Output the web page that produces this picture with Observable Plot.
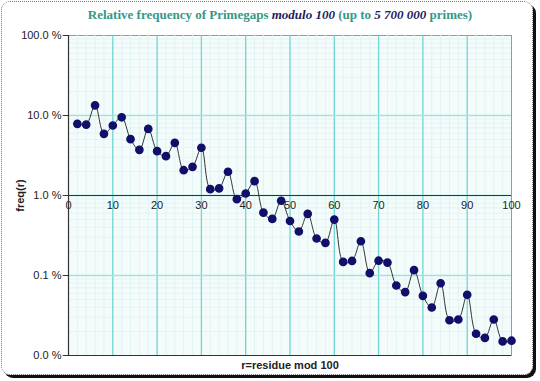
<!DOCTYPE html>
<html>
<head>
<meta charset="utf-8">
<script src="https://cdn.jsdelivr.net/npm/d3@7"></script>
<script src="https://cdn.jsdelivr.net/npm/@observablehq/plot@0.6"></script>
<style>
  html, body { margin: 0; padding: 0; background: #fff; }
  #wrap { position: relative; width: 540px; height: 381px; overflow: hidden; background: #fff; }
  #title { position: absolute; left: 0; top: 7px; width: 560px; text-align: center;
    font-family: "Liberation Serif", "Times New Roman", serif; font-size: 13px; font-weight: bold;
    color: #339888; white-space: nowrap; }
  #title i { color: #1c1c5e; }
  #chart { position: absolute; left: 0; top: 28px; }
  #frame { position: absolute; left: 1px; top: 1px; width: 530px; height: 372px;
    border: 1px dotted #777; border-radius: 9px; box-shadow: 3px 3px 0 #111; pointer-events: none; }
</style>
</head>
<body>
<div id="wrap">
  <div id="title">Relative frequency of Primegaps <i>modulo 100</i> (up to <i>5 700 000</i> primes)</div>
  <div id="chart"></div>
  <div id="frame"></div>
</div>
<script>
const residues = [2,4,6,8,10,12,14,16,18,20,22,24,26,28,30,32,34,36,38,40,42,44,46,48,50,
  52,54,56,58,60,62,64,66,68,70,72,74,76,78,80,82,84,86,88,90,92,94,96,98,100];
const freqPercent = [7.87,7.7,13.4,5.9,7.5,9.5,5.06,3.72,6.8,3.58,3.1,4.55,2.07,2.28,3.95,1.2,1.23,1.98,0.90,1.06,
  1.51,0.61,0.51,0.86,0.48,0.355,0.59,0.29,0.256,0.50,0.148,0.152,0.268,0.107,0.153,0.145,0.075,0.062,0.1165,0.0557,
  0.0398,0.080,0.0276,0.0282,0.0574,0.0187,0.0166,0.0282,0.015,0.0153];
const xTicks = [0,10,20,30,40,50,60,70,80,90,100];
const yTicks = [100,10,1,0.1,0.01];
const yTickLabels = ["100.0 %","10.0 %","1.0 %","0.1 %","0.0 %"];
const xLabel = "r=residue mod 100";
const yLabel = "freq(r)";

const data = residues.map((r, i) => ({r, f: freqPercent[i]}));
const minorX = d3.range(0, 101, 2).filter(v => v % 10 !== 0);
const minorY = [];
for (const dec of [0.01, 0.1, 1, 10]) for (let k = 2; k <= 9; k++) minorY.push(dec * k);

const W = 540, H = 353;
const font = "'Liberation Sans', Arial, sans-serif";

const chart = Plot.plot({
  width: W, height: H,
  marginLeft: 68, marginRight: 29, marginTop: 7, marginBottom: 26,
  style: {fontFamily: font, fontSize: "11px", background: "transparent", color: "#222"},
  x: {type: "linear", domain: [0, 100], axis: null},
  y: {type: "log", domain: [0.01, 100], axis: null},
  marks: [
    Plot.frame({fill: "#f4fbfb", stroke: "#999"}),
    Plot.ruleX(minorX, {stroke: "#e0f3f3", strokeWidth: 1}),
    Plot.ruleY(minorY, {stroke: "#e3f4f4", strokeWidth: 1}),
    Plot.ruleX(xTicks.slice(1, -1), {stroke: "#6fd6d2", strokeWidth: 1.3}),
    Plot.ruleY(yTicks.slice(1, -1), {stroke: "#9fe3e0", strokeWidth: 1.3}),
    // x axis drawn at 1 %
    Plot.ruleY([1], {stroke: "#333", strokeWidth: 1.2}),
    Plot.text(xTicks, {x: d => d, y: () => 1, dy: 10, text: d => String(d), fill: "#222", fontSize: 11}),
    // y axis
    Plot.ruleX([0], {stroke: "#333", strokeWidth: 1.2}),
    Plot.ruleY([0.01], {stroke: "#333", strokeWidth: 1}),
    Plot.ruleY(yTicks, {y: d => d, x1: () => -1.2, x2: () => 0, stroke: "#333", strokeWidth: 1}),
    Plot.text(yTicks, {x: () => 0, y: d => d, dx: -7, text: (d, i) => yTickLabels[i], textAnchor: "end", fill: "#222", fontSize: 11}),
    // data
    Plot.line(data, {x: "r", y: "f", curve: "catmull-rom", stroke: "#333", strokeWidth: 1}),
    Plot.dot(data, {x: "r", y: "f", r: 3.6, fill: "#10106a", stroke: "#10106a"}),
    // axis titles
    Plot.text([xLabel], {frameAnchor: "bottom", dy: 13, text: d => d, fontWeight: "bold", fontSize: 11, fill: "#222"}),
    Plot.text([yLabel], {x: () => 0, y: () => 1, dx: -48, rotate: -90, text: d => d, fontWeight: "bold", fontSize: 11, fill: "#222"})
  ]
});
document.getElementById("chart").appendChild(chart);
</script>
</body>
</html>
